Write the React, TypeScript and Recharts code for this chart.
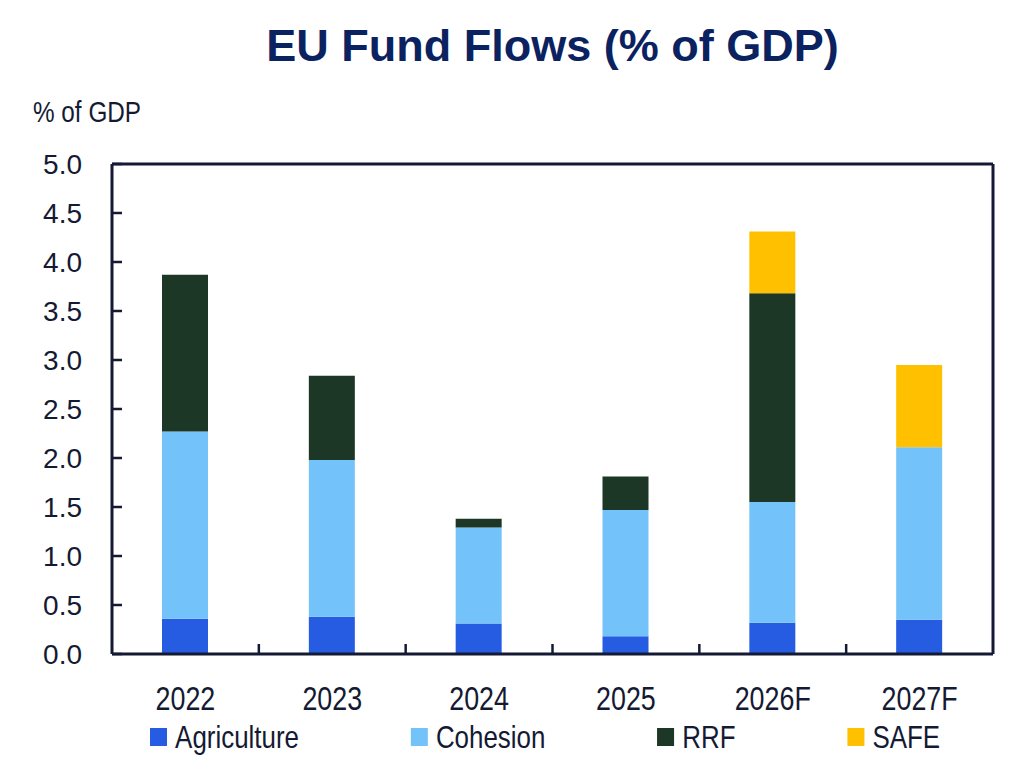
import React from 'react';
import { BarChart, Bar, XAxis, YAxis } from 'recharts';

const categories = ['2022', '2023', '2024', '2025', '2026F', '2027F'];
const agriculture = [0.36, 0.38, 0.31, 0.18, 0.32, 0.35];
const cohesion = [1.91, 1.6, 0.98, 1.29, 1.23, 1.76];
const rrf = [1.6, 0.86, 0.09, 0.34, 2.13, 0];
const safe = [0, 0, 0, 0, 0.63, 0.84];
const yTicks = [0, 0.5, 1, 1.5, 2, 2.5, 3, 3.5, 4, 4.5, 5];

const seriesDefs = [
  { key: 'Agriculture', color: '#255ce1' },
  { key: 'Cohesion', color: '#74c2fa' },
  { key: 'RRF', color: '#1c3726' },
  { key: 'SAFE', color: '#ffc000' },
];

const data = categories.map((c, i) => ({
  name: c,
  Agriculture: agriculture[i],
  Cohesion: cohesion[i],
  RRF: rrf[i],
  SAFE: safe[i],
}));

const INK = '#141a33';
const REG = "'Liberation Sans', Roboto, sans-serif";

const YTick = (props: any) => {
  const { x, y, payload } = props;
  const axisX = x + 30;
  return (
    <g>
      <line x1={axisX} x2={axisX + 10} y1={y} y2={y} stroke={INK} strokeWidth={2.5} />
      <text x={x} y={y} dy="0.36em" textAnchor="end" fill={INK} fontFamily={REG} fontSize={28}>
        {Number(payload.value).toFixed(1)}
      </text>
    </g>
  );
};

const XTick = (props: any) => {
  const { x, y, payload, index } = props;
  const half = payload && payload.offset ? payload.offset : 73.4;
  return (
    <g>
      {index > 0 && (
        <line x1={x - half} x2={x - half} y1={y} y2={y - 10} stroke={INK} strokeWidth={2.5} />
      )}
      <text
        transform={`translate(${x},${y + 56}) scale(0.79,1)`}
        textAnchor="middle"
        fill={INK}
        fontFamily={REG}
        fontSize={34}
      >
        {payload.value}
      </text>
    </g>
  );
};

export default function App() {
  return (
    <div style={{ position: 'absolute', left: 0, top: 0, width: 1032, height: 774, background: '#fff' }}>
      <div
        style={{
          position: 'absolute',
          left: 112,
          width: 881,
          top: 23,
          textAlign: 'center',
          fontFamily: REG,
          fontWeight: 'bold',
          fontSize: 45,
          lineHeight: '45px',
          color: '#0b2260',
          whiteSpace: 'nowrap',
        }}
      >
        EU Fund Flows (% of GDP)
      </div>
      <div
        style={{
          position: 'absolute',
          left: 33,
          top: 97,
          fontFamily: REG,
          fontSize: 30,
          lineHeight: '30px',
          color: INK,
          whiteSpace: 'nowrap',
          transform: 'scaleX(0.81)',
          transformOrigin: 'left center',
        }}
      >
        % of GDP
      </div>
      <BarChart
        width={1032}
        height={774}
        data={data}
        margin={{ top: 163, right: 38, bottom: 60, left: 40 }}
        barSize={46}
      >
        <XAxis
          dataKey="name"
          height={60}
          tickSize={0}
          tickMargin={0}
          tickLine={false}
          tick={<XTick />}
          interval={0}
          axisLine={{ stroke: INK, strokeWidth: 3 }}
        />
        <XAxis
          xAxisId="top"
          orientation="top"
          dataKey="name"
          height={1}
          tick={false}
          tickLine={false}
          axisLine={{ stroke: INK, strokeWidth: 3 }}
        />
        <YAxis
          width={72}
          domain={[0, 5]}
          ticks={yTicks}
          interval={0}
          tickSize={0}
          tickMargin={30}
          tickLine={false}
          tick={<YTick />}
          axisLine={{ stroke: INK, strokeWidth: 3 }}
        />
        <YAxis
          yAxisId="right"
          orientation="right"
          width={1}
          domain={[0, 5]}
          tick={false}
          tickLine={false}
          axisLine={{ stroke: INK, strokeWidth: 3 }}
        />
        {seriesDefs.map((s) => (
          <Bar key={s.key} dataKey={s.key} stackId="a" fill={s.color} isAnimationActive={false} />
        ))}
      </BarChart>
      <div
        style={{
          position: 'absolute',
          left: 150,
          top: 721,
          display: 'flex',
          alignItems: 'center',
          gap: 138,
          fontFamily: REG,
          fontSize: 32,
          lineHeight: '32px',
          color: INK,
          whiteSpace: 'nowrap',
          transform: 'scaleX(0.81)',
          transformOrigin: 'left center',
        }}
      >
        {seriesDefs.map((s) => (
          <div key={s.key} style={{ display: 'flex', alignItems: 'center' }}>
            <span style={{ display: 'inline-block', width: 21, height: 18, background: s.color, marginRight: 10 }} />
            <span>{s.key}</span>
          </div>
        ))}
      </div>
    </div>
  );
}
